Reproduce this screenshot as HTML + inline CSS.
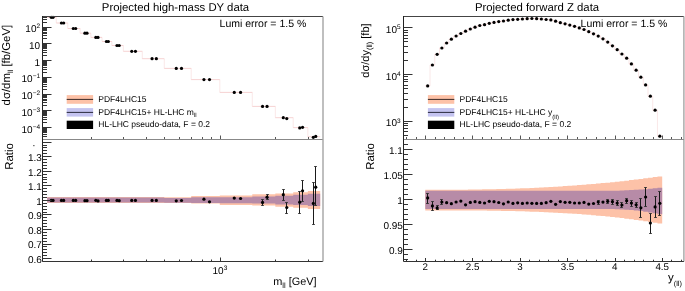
<!DOCTYPE html>
<html><head><meta charset="utf-8"><style>
html,body{margin:0;padding:0;background:#fff;}
svg{display:block;will-change:transform;}
</style></head><body>
<svg width="685" height="291" viewBox="0 0 685 291" font-family='"Liberation Sans", sans-serif' text-rendering="geometricPrecision">
<rect x="0.00" y="0.00" width="685.00" height="291.00" fill="#fff" />
<path d="M47.19,197.00 L56.32,197.00 L56.32,197.00 L67.79,197.00 L67.79,197.00 L80.14,197.00 L80.14,197.00 L90.84,197.00 L90.84,197.00 L102.04,197.00 L102.04,197.00 L111.86,197.00 L111.86,197.00 L123.33,197.00 L123.33,197.00 L142.27,197.00 L142.27,197.00 L164.26,197.00 L164.26,197.20 L191.22,197.20 L191.22,196.00 L219.80,196.00 L219.80,195.60 L252.29,195.60 L252.29,194.35 L275.34,194.35 L275.34,193.40 L293.22,193.40 L293.22,192.20 L307.83,192.20 L307.83,191.00 L320.18,191.00 L320.18,208.90 L307.83,208.90 L307.83,207.70 L293.22,207.70 L293.22,206.80 L275.34,206.80 L275.34,205.50 L252.29,205.50 L252.29,204.90 L219.80,204.90 L219.80,203.50 L191.22,203.50 L191.22,203.10 L164.26,203.10 L164.26,202.90 L142.27,202.90 L142.27,202.90 L123.33,202.90 L123.33,202.90 L111.86,202.90 L111.86,202.90 L102.04,202.90 L102.04,202.90 L90.84,202.90 L90.84,202.90 L80.14,202.90 L80.14,202.90 L67.79,202.90 L67.79,202.90 L56.32,202.90 L56.32,202.90 L47.19,202.90 Z" fill="#fdc2a8"/>
<path d="M47.19,197.50 L56.32,197.50 L56.32,197.50 L67.79,197.50 L67.79,197.50 L80.14,197.50 L80.14,197.50 L90.84,197.50 L90.84,197.50 L102.04,197.50 L102.04,197.50 L111.86,197.50 L111.86,197.50 L123.33,197.50 L123.33,197.50 L142.27,197.50 L142.27,197.50 L164.26,197.50 L164.26,197.90 L191.22,197.90 L191.22,197.30 L219.80,197.30 L219.80,197.20 L252.29,197.20 L252.29,196.50 L275.34,196.50 L275.34,195.80 L293.22,195.80 L293.22,194.80 L307.83,194.80 L307.83,193.80 L320.18,193.80 L320.18,206.10 L307.83,206.10 L307.83,205.10 L293.22,205.10 L293.22,204.60 L275.34,204.60 L275.34,203.40 L252.29,203.40 L252.29,203.30 L219.80,203.30 L219.80,202.90 L191.22,202.90 L191.22,202.70 L164.26,202.70 L164.26,202.50 L142.27,202.50 L142.27,202.50 L123.33,202.50 L123.33,202.50 L111.86,202.50 L111.86,202.50 L102.04,202.50 L102.04,202.50 L90.84,202.50 L90.84,202.50 L80.14,202.50 L80.14,202.50 L67.79,202.50 L67.79,202.50 L56.32,202.50 L56.32,202.50 L47.19,202.50 Z" fill="#b78ba7"/>
<circle cx="51.26" cy="200.40" r="1.6" fill="#000"/>
<circle cx="53.04" cy="200.40" r="1.6" fill="#000"/>
<circle cx="61.43" cy="200.40" r="1.6" fill="#000"/>
<circle cx="63.66" cy="200.40" r="1.6" fill="#000"/>
<circle cx="73.29" cy="200.40" r="1.6" fill="#000"/>
<circle cx="75.69" cy="200.40" r="1.6" fill="#000"/>
<circle cx="84.90" cy="200.70" r="1.6" fill="#000"/>
<circle cx="86.99" cy="200.70" r="1.6" fill="#000"/>
<circle cx="95.82" cy="200.30" r="1.6" fill="#000"/>
<circle cx="98.01" cy="200.90" r="1.6" fill="#000"/>
<circle cx="106.41" cy="200.40" r="1.6" fill="#000"/>
<circle cx="108.33" cy="200.40" r="1.6" fill="#000"/>
<circle cx="116.97" cy="200.40" r="1.6" fill="#000"/>
<circle cx="119.20" cy="200.70" r="1.6" fill="#000"/>
<circle cx="131.76" cy="200.40" r="1.6" fill="#000"/>
<circle cx="135.45" cy="200.40" r="1.6" fill="#000"/>
<circle cx="152.06" cy="200.40" r="1.6" fill="#000"/>
<circle cx="156.34" cy="200.40" r="1.6" fill="#000"/>
<circle cx="176.26" cy="200.80" r="1.6" fill="#000"/>
<circle cx="181.51" cy="200.50" r="1.6" fill="#000"/>
<circle cx="203.94" cy="199.20" r="1.6" fill="#000"/>
<circle cx="209.51" cy="201.80" r="1.6" fill="#000"/>
<circle cx="234.26" cy="198.10" r="1.6" fill="#000"/>
<circle cx="240.59" cy="198.50" r="1.6" fill="#000"/>
<line x1="262.50" y1="199.50" x2="262.50" y2="205.50" stroke="#1a1a1a" stroke-width="1" />
<line x1="261.20" y1="199.50" x2="263.80" y2="199.50" stroke="#333" stroke-width="1" />
<line x1="261.20" y1="205.50" x2="263.80" y2="205.50" stroke="#333" stroke-width="1" />
<line x1="267.50" y1="194.50" x2="267.50" y2="199.50" stroke="#1a1a1a" stroke-width="1" />
<line x1="266.20" y1="194.50" x2="268.80" y2="194.50" stroke="#333" stroke-width="1" />
<line x1="266.20" y1="199.50" x2="268.80" y2="199.50" stroke="#333" stroke-width="1" />
<circle cx="262.55" cy="202.40" r="1.6" fill="#000"/>
<circle cx="267.04" cy="197.20" r="1.6" fill="#000"/>
<line x1="283.50" y1="189.50" x2="283.50" y2="200.50" stroke="#1a1a1a" stroke-width="1" />
<line x1="282.20" y1="189.50" x2="284.80" y2="189.50" stroke="#333" stroke-width="1" />
<line x1="282.20" y1="200.50" x2="284.80" y2="200.50" stroke="#333" stroke-width="1" />
<line x1="286.50" y1="202.50" x2="286.50" y2="213.50" stroke="#1a1a1a" stroke-width="1" />
<line x1="285.20" y1="202.50" x2="287.80" y2="202.50" stroke="#333" stroke-width="1" />
<line x1="285.20" y1="213.50" x2="287.80" y2="213.50" stroke="#333" stroke-width="1" />
<circle cx="283.30" cy="194.70" r="1.6" fill="#000"/>
<circle cx="286.78" cy="207.50" r="1.6" fill="#000"/>
<line x1="299.50" y1="191.50" x2="299.50" y2="213.50" stroke="#1a1a1a" stroke-width="1" />
<line x1="298.20" y1="191.50" x2="300.80" y2="191.50" stroke="#333" stroke-width="1" />
<line x1="298.20" y1="213.50" x2="300.80" y2="213.50" stroke="#333" stroke-width="1" />
<line x1="302.50" y1="180.50" x2="302.50" y2="201.50" stroke="#1a1a1a" stroke-width="1" />
<line x1="301.20" y1="180.50" x2="303.80" y2="180.50" stroke="#333" stroke-width="1" />
<line x1="301.20" y1="201.50" x2="303.80" y2="201.50" stroke="#333" stroke-width="1" />
<circle cx="299.72" cy="202.20" r="1.6" fill="#000"/>
<circle cx="302.57" cy="190.80" r="1.6" fill="#000"/>
<line x1="313.50" y1="182.50" x2="313.50" y2="224.50" stroke="#1a1a1a" stroke-width="1" />
<line x1="312.20" y1="182.50" x2="314.80" y2="182.50" stroke="#333" stroke-width="1" />
<line x1="312.20" y1="224.50" x2="314.80" y2="224.50" stroke="#333" stroke-width="1" />
<line x1="315.50" y1="166.50" x2="315.50" y2="205.50" stroke="#1a1a1a" stroke-width="1" />
<line x1="314.20" y1="166.50" x2="316.80" y2="166.50" stroke="#333" stroke-width="1" />
<line x1="314.20" y1="205.50" x2="316.80" y2="205.50" stroke="#333" stroke-width="1" />
<circle cx="313.33" cy="203.40" r="1.6" fill="#000"/>
<circle cx="315.73" cy="187.20" r="1.6" fill="#000"/>
<rect x="0.00" y="0.00" width="335.00" height="144.60" fill="#fff" />
<path d="M56.32,17.50 L56.32,23.00 M67.79,23.00 L67.79,28.50 M80.14,28.50 L80.14,33.20 M90.84,33.20 L90.84,37.40 M102.04,37.40 L102.04,41.50 M111.86,41.50 L111.86,45.50 M123.33,45.50 L123.33,51.30 M142.27,51.30 L142.27,58.70 M164.26,58.70 L164.26,68.40 M191.22,68.40 L191.22,79.60 M219.80,79.60 L219.80,92.40 M252.29,92.40 L252.29,106.40 M275.34,106.40 L275.34,117.70 M293.22,117.70 L293.22,127.60 M307.83,127.60 L307.83,136.70 " fill="none" stroke="#f9e2e2" stroke-width="0.8"/>
<path d="M47.19,17.50 L56.32,17.50 M56.32,23.00 L67.79,23.00 M67.79,28.50 L80.14,28.50 M80.14,33.20 L90.84,33.20 M90.84,37.40 L102.04,37.40 M102.04,41.50 L111.86,41.50 M111.86,45.50 L123.33,45.50 M123.33,51.30 L142.27,51.30 M142.27,58.70 L164.26,58.70 M164.26,68.40 L191.22,68.40 M191.22,79.60 L219.80,79.60 M219.80,92.40 L252.29,92.40 M252.29,106.40 L275.34,106.40 M275.34,117.70 L293.22,117.70 M293.22,127.60 L307.83,127.60 M307.83,136.70 L320.18,136.70 " fill="none" stroke="#f4c6c6" stroke-width="0.8"/>
<circle cx="51.26" cy="17.30" r="1.6" fill="#000"/>
<circle cx="53.04" cy="17.30" r="1.6" fill="#000"/>
<circle cx="61.43" cy="23.00" r="1.6" fill="#000"/>
<circle cx="63.66" cy="23.00" r="1.6" fill="#000"/>
<circle cx="73.29" cy="28.50" r="1.6" fill="#000"/>
<circle cx="75.69" cy="28.50" r="1.6" fill="#000"/>
<circle cx="84.90" cy="33.20" r="1.6" fill="#000"/>
<circle cx="86.99" cy="33.20" r="1.6" fill="#000"/>
<circle cx="95.82" cy="37.40" r="1.6" fill="#000"/>
<circle cx="98.01" cy="37.40" r="1.6" fill="#000"/>
<circle cx="106.41" cy="41.50" r="1.6" fill="#000"/>
<circle cx="108.33" cy="41.50" r="1.6" fill="#000"/>
<circle cx="116.97" cy="45.50" r="1.6" fill="#000"/>
<circle cx="119.20" cy="45.50" r="1.6" fill="#000"/>
<circle cx="131.76" cy="51.30" r="1.6" fill="#000"/>
<circle cx="135.45" cy="51.30" r="1.6" fill="#000"/>
<circle cx="152.06" cy="58.70" r="1.6" fill="#000"/>
<circle cx="156.34" cy="58.70" r="1.6" fill="#000"/>
<circle cx="176.26" cy="68.40" r="1.6" fill="#000"/>
<circle cx="181.51" cy="68.40" r="1.6" fill="#000"/>
<circle cx="203.94" cy="79.60" r="1.6" fill="#000"/>
<circle cx="209.51" cy="79.60" r="1.6" fill="#000"/>
<circle cx="234.26" cy="92.40" r="1.6" fill="#000"/>
<circle cx="240.59" cy="92.40" r="1.6" fill="#000"/>
<circle cx="262.55" cy="106.40" r="1.6" fill="#000"/>
<circle cx="267.04" cy="106.40" r="1.6" fill="#000"/>
<circle cx="283.30" cy="117.70" r="1.6" fill="#000"/>
<circle cx="286.78" cy="118.60" r="1.6" fill="#000"/>
<circle cx="299.72" cy="127.90" r="1.6" fill="#000"/>
<circle cx="302.57" cy="127.30" r="1.6" fill="#000"/>
<circle cx="313.33" cy="137.30" r="1.6" fill="#000"/>
<circle cx="315.73" cy="136.40" r="1.6" fill="#000"/>
<line x1="42.50" y1="16.50" x2="323.00" y2="16.50" stroke="#444" stroke-width="1" />
<line x1="323.00" y1="16.50" x2="323.00" y2="139.00" stroke="#a4a4a4" stroke-width="1.4" />
<line x1="42.50" y1="139.45" x2="323.00" y2="139.45" stroke="#888" stroke-width="1.1" />
<line x1="42.50" y1="16.00" x2="42.50" y2="139.00" stroke="#222" stroke-width="1" />
<line x1="42.50" y1="136.50" x2="47.00" y2="136.50" stroke="#333" stroke-width="1" />
<line x1="42.50" y1="134.50" x2="47.00" y2="134.50" stroke="#333" stroke-width="1" />
<line x1="42.50" y1="132.50" x2="47.00" y2="132.50" stroke="#333" stroke-width="1" />
<line x1="42.50" y1="131.50" x2="47.00" y2="131.50" stroke="#333" stroke-width="1" />
<line x1="42.50" y1="130.50" x2="47.00" y2="130.50" stroke="#333" stroke-width="1" />
<line x1="42.50" y1="129.50" x2="47.00" y2="129.50" stroke="#333" stroke-width="1" />
<line x1="42.50" y1="128.50" x2="47.00" y2="128.50" stroke="#333" stroke-width="1" />
<line x1="42.50" y1="127.50" x2="51.50" y2="127.50" stroke="#333" stroke-width="1" />
<line x1="42.50" y1="122.50" x2="47.00" y2="122.50" stroke="#333" stroke-width="1" />
<line x1="42.50" y1="119.50" x2="47.00" y2="119.50" stroke="#333" stroke-width="1" />
<line x1="42.50" y1="117.50" x2="47.00" y2="117.50" stroke="#333" stroke-width="1" />
<line x1="42.50" y1="115.50" x2="47.00" y2="115.50" stroke="#333" stroke-width="1" />
<line x1="42.50" y1="114.50" x2="47.00" y2="114.50" stroke="#333" stroke-width="1" />
<line x1="42.50" y1="113.50" x2="47.00" y2="113.50" stroke="#333" stroke-width="1" />
<line x1="42.50" y1="112.50" x2="47.00" y2="112.50" stroke="#333" stroke-width="1" />
<line x1="42.50" y1="111.50" x2="47.00" y2="111.50" stroke="#333" stroke-width="1" />
<line x1="42.50" y1="110.50" x2="51.50" y2="110.50" stroke="#333" stroke-width="1" />
<line x1="42.50" y1="105.50" x2="47.00" y2="105.50" stroke="#333" stroke-width="1" />
<line x1="42.50" y1="102.50" x2="47.00" y2="102.50" stroke="#333" stroke-width="1" />
<line x1="42.50" y1="100.50" x2="47.00" y2="100.50" stroke="#333" stroke-width="1" />
<line x1="42.50" y1="99.50" x2="47.00" y2="99.50" stroke="#333" stroke-width="1" />
<line x1="42.50" y1="97.50" x2="47.00" y2="97.50" stroke="#333" stroke-width="1" />
<line x1="42.50" y1="96.50" x2="47.00" y2="96.50" stroke="#333" stroke-width="1" />
<line x1="42.50" y1="95.50" x2="47.00" y2="95.50" stroke="#333" stroke-width="1" />
<line x1="42.50" y1="94.50" x2="47.00" y2="94.50" stroke="#333" stroke-width="1" />
<line x1="42.50" y1="94.50" x2="51.50" y2="94.50" stroke="#333" stroke-width="1" />
<line x1="42.50" y1="89.50" x2="47.00" y2="89.50" stroke="#333" stroke-width="1" />
<line x1="42.50" y1="86.50" x2="47.00" y2="86.50" stroke="#333" stroke-width="1" />
<line x1="42.50" y1="84.50" x2="47.00" y2="84.50" stroke="#333" stroke-width="1" />
<line x1="42.50" y1="82.50" x2="47.00" y2="82.50" stroke="#333" stroke-width="1" />
<line x1="42.50" y1="81.50" x2="47.00" y2="81.50" stroke="#333" stroke-width="1" />
<line x1="42.50" y1="80.50" x2="47.00" y2="80.50" stroke="#333" stroke-width="1" />
<line x1="42.50" y1="79.50" x2="47.00" y2="79.50" stroke="#333" stroke-width="1" />
<line x1="42.50" y1="78.50" x2="47.00" y2="78.50" stroke="#333" stroke-width="1" />
<line x1="42.50" y1="77.50" x2="51.50" y2="77.50" stroke="#333" stroke-width="1" />
<line x1="42.50" y1="72.50" x2="47.00" y2="72.50" stroke="#333" stroke-width="1" />
<line x1="42.50" y1="69.50" x2="47.00" y2="69.50" stroke="#333" stroke-width="1" />
<line x1="42.50" y1="67.50" x2="47.00" y2="67.50" stroke="#333" stroke-width="1" />
<line x1="42.50" y1="65.50" x2="47.00" y2="65.50" stroke="#333" stroke-width="1" />
<line x1="42.50" y1="64.50" x2="47.00" y2="64.50" stroke="#333" stroke-width="1" />
<line x1="42.50" y1="63.50" x2="47.00" y2="63.50" stroke="#333" stroke-width="1" />
<line x1="42.50" y1="62.50" x2="47.00" y2="62.50" stroke="#333" stroke-width="1" />
<line x1="42.50" y1="61.50" x2="47.00" y2="61.50" stroke="#333" stroke-width="1" />
<line x1="42.50" y1="60.50" x2="51.50" y2="60.50" stroke="#333" stroke-width="1" />
<line x1="42.50" y1="55.50" x2="47.00" y2="55.50" stroke="#333" stroke-width="1" />
<line x1="42.50" y1="52.50" x2="47.00" y2="52.50" stroke="#333" stroke-width="1" />
<line x1="42.50" y1="50.50" x2="47.00" y2="50.50" stroke="#333" stroke-width="1" />
<line x1="42.50" y1="48.50" x2="47.00" y2="48.50" stroke="#333" stroke-width="1" />
<line x1="42.50" y1="47.50" x2="47.00" y2="47.50" stroke="#333" stroke-width="1" />
<line x1="42.50" y1="46.50" x2="47.00" y2="46.50" stroke="#333" stroke-width="1" />
<line x1="42.50" y1="45.50" x2="47.00" y2="45.50" stroke="#333" stroke-width="1" />
<line x1="42.50" y1="44.50" x2="47.00" y2="44.50" stroke="#333" stroke-width="1" />
<line x1="42.50" y1="43.50" x2="51.50" y2="43.50" stroke="#333" stroke-width="1" />
<line x1="42.50" y1="38.50" x2="47.00" y2="38.50" stroke="#333" stroke-width="1" />
<line x1="42.50" y1="35.50" x2="47.00" y2="35.50" stroke="#333" stroke-width="1" />
<line x1="42.50" y1="33.50" x2="47.00" y2="33.50" stroke="#333" stroke-width="1" />
<line x1="42.50" y1="32.50" x2="47.00" y2="32.50" stroke="#333" stroke-width="1" />
<line x1="42.50" y1="30.50" x2="47.00" y2="30.50" stroke="#333" stroke-width="1" />
<line x1="42.50" y1="29.50" x2="47.00" y2="29.50" stroke="#333" stroke-width="1" />
<line x1="42.50" y1="28.50" x2="47.00" y2="28.50" stroke="#333" stroke-width="1" />
<line x1="42.50" y1="27.50" x2="47.00" y2="27.50" stroke="#333" stroke-width="1" />
<line x1="42.50" y1="27.50" x2="51.50" y2="27.50" stroke="#333" stroke-width="1" />
<line x1="42.50" y1="22.50" x2="47.00" y2="22.50" stroke="#333" stroke-width="1" />
<line x1="42.50" y1="19.50" x2="47.00" y2="19.50" stroke="#333" stroke-width="1" />
<line x1="42.50" y1="17.50" x2="47.00" y2="17.50" stroke="#333" stroke-width="1" />
<text x="40.10" y="32.00" font-size="10" text-anchor="end" >10<tspan dy="-3.8" font-size="6.5">2</tspan></text>
<text x="40.10" y="48.75" font-size="10" text-anchor="end" >10</text>
<text x="40.10" y="65.50" font-size="10" text-anchor="end" >1</text>
<text x="40.10" y="82.25" font-size="10" text-anchor="end" >10<tspan dy="-3.8" font-size="6.5">−1</tspan></text>
<text x="40.10" y="99.00" font-size="10" text-anchor="end" >10<tspan dy="-3.8" font-size="6.5">−2</tspan></text>
<text x="40.10" y="115.75" font-size="10" text-anchor="end" >10<tspan dy="-3.8" font-size="6.5">−3</tspan></text>
<text x="40.10" y="132.50" font-size="10" text-anchor="end" >10<tspan dy="-3.8" font-size="6.5">−4</tspan></text>
<line x1="91.50" y1="139.00" x2="91.50" y2="137.00" stroke="#555" stroke-width="1" />
<line x1="123.50" y1="139.00" x2="123.50" y2="137.00" stroke="#555" stroke-width="1" />
<line x1="146.50" y1="139.00" x2="146.50" y2="137.00" stroke="#555" stroke-width="1" />
<line x1="164.50" y1="139.00" x2="164.50" y2="137.00" stroke="#555" stroke-width="1" />
<line x1="179.50" y1="139.00" x2="179.50" y2="137.00" stroke="#555" stroke-width="1" />
<line x1="191.50" y1="139.00" x2="191.50" y2="137.00" stroke="#555" stroke-width="1" />
<line x1="202.50" y1="139.00" x2="202.50" y2="137.00" stroke="#555" stroke-width="1" />
<line x1="211.50" y1="139.00" x2="211.50" y2="137.00" stroke="#555" stroke-width="1" />
<line x1="220.50" y1="139.00" x2="220.50" y2="135.50" stroke="#555" stroke-width="1" />
<line x1="275.50" y1="139.00" x2="275.50" y2="137.00" stroke="#555" stroke-width="1" />
<line x1="308.50" y1="139.00" x2="308.50" y2="137.00" stroke="#555" stroke-width="1" />
<line x1="42.50" y1="139.00" x2="42.50" y2="261.50" stroke="#222" stroke-width="1" />
<line x1="42.50" y1="261.50" x2="323.00" y2="261.50" stroke="#333" stroke-width="1" />
<line x1="323.00" y1="139.00" x2="323.00" y2="261.50" stroke="#a4a4a4" stroke-width="1.4" />
<line x1="42.50" y1="261.50" x2="47.00" y2="261.50" stroke="#333" stroke-width="1" />
<line x1="42.50" y1="258.50" x2="51.50" y2="258.50" stroke="#333" stroke-width="1" />
<line x1="42.50" y1="255.50" x2="47.00" y2="255.50" stroke="#333" stroke-width="1" />
<line x1="42.50" y1="252.50" x2="47.00" y2="252.50" stroke="#333" stroke-width="1" />
<line x1="42.50" y1="249.50" x2="47.00" y2="249.50" stroke="#333" stroke-width="1" />
<line x1="42.50" y1="246.50" x2="47.00" y2="246.50" stroke="#333" stroke-width="1" />
<line x1="42.50" y1="244.50" x2="51.50" y2="244.50" stroke="#333" stroke-width="1" />
<line x1="42.50" y1="241.50" x2="47.00" y2="241.50" stroke="#333" stroke-width="1" />
<line x1="42.50" y1="238.50" x2="47.00" y2="238.50" stroke="#333" stroke-width="1" />
<line x1="42.50" y1="235.50" x2="47.00" y2="235.50" stroke="#333" stroke-width="1" />
<line x1="42.50" y1="232.50" x2="47.00" y2="232.50" stroke="#333" stroke-width="1" />
<line x1="42.50" y1="229.50" x2="51.50" y2="229.50" stroke="#333" stroke-width="1" />
<line x1="42.50" y1="226.50" x2="47.00" y2="226.50" stroke="#333" stroke-width="1" />
<line x1="42.50" y1="223.50" x2="47.00" y2="223.50" stroke="#333" stroke-width="1" />
<line x1="42.50" y1="220.50" x2="47.00" y2="220.50" stroke="#333" stroke-width="1" />
<line x1="42.50" y1="217.50" x2="47.00" y2="217.50" stroke="#333" stroke-width="1" />
<line x1="42.50" y1="214.50" x2="51.50" y2="214.50" stroke="#333" stroke-width="1" />
<line x1="42.50" y1="212.50" x2="47.00" y2="212.50" stroke="#333" stroke-width="1" />
<line x1="42.50" y1="209.50" x2="47.00" y2="209.50" stroke="#333" stroke-width="1" />
<line x1="42.50" y1="206.50" x2="47.00" y2="206.50" stroke="#333" stroke-width="1" />
<line x1="42.50" y1="203.50" x2="47.00" y2="203.50" stroke="#333" stroke-width="1" />
<line x1="42.50" y1="200.50" x2="51.50" y2="200.50" stroke="#333" stroke-width="1" />
<line x1="42.50" y1="197.50" x2="47.00" y2="197.50" stroke="#333" stroke-width="1" />
<line x1="42.50" y1="194.50" x2="47.00" y2="194.50" stroke="#333" stroke-width="1" />
<line x1="42.50" y1="191.50" x2="47.00" y2="191.50" stroke="#333" stroke-width="1" />
<line x1="42.50" y1="188.50" x2="47.00" y2="188.50" stroke="#333" stroke-width="1" />
<line x1="42.50" y1="185.50" x2="51.50" y2="185.50" stroke="#333" stroke-width="1" />
<line x1="42.50" y1="182.50" x2="47.00" y2="182.50" stroke="#333" stroke-width="1" />
<line x1="42.50" y1="179.50" x2="47.00" y2="179.50" stroke="#333" stroke-width="1" />
<line x1="42.50" y1="177.50" x2="47.00" y2="177.50" stroke="#333" stroke-width="1" />
<line x1="42.50" y1="174.50" x2="47.00" y2="174.50" stroke="#333" stroke-width="1" />
<line x1="42.50" y1="171.50" x2="51.50" y2="171.50" stroke="#333" stroke-width="1" />
<line x1="42.50" y1="168.50" x2="47.00" y2="168.50" stroke="#333" stroke-width="1" />
<line x1="42.50" y1="165.50" x2="47.00" y2="165.50" stroke="#333" stroke-width="1" />
<line x1="42.50" y1="162.50" x2="47.00" y2="162.50" stroke="#333" stroke-width="1" />
<line x1="42.50" y1="159.50" x2="47.00" y2="159.50" stroke="#333" stroke-width="1" />
<line x1="42.50" y1="156.50" x2="51.50" y2="156.50" stroke="#333" stroke-width="1" />
<line x1="42.50" y1="153.50" x2="47.00" y2="153.50" stroke="#333" stroke-width="1" />
<line x1="42.50" y1="150.50" x2="47.00" y2="150.50" stroke="#333" stroke-width="1" />
<line x1="42.50" y1="147.50" x2="47.00" y2="147.50" stroke="#333" stroke-width="1" />
<line x1="42.50" y1="145.50" x2="47.00" y2="145.50" stroke="#333" stroke-width="1" />
<line x1="42.50" y1="142.50" x2="51.50" y2="142.50" stroke="#333" stroke-width="1" />
<text x="41.80" y="160.99" font-size="10" text-anchor="end" >1.3</text>
<text x="41.80" y="175.55" font-size="10" text-anchor="end" >1.2</text>
<text x="41.80" y="190.11" font-size="10" text-anchor="end" >1.1</text>
<text x="41.80" y="204.67" font-size="10" text-anchor="end" >1</text>
<text x="41.80" y="219.23" font-size="10" text-anchor="end" >0.9</text>
<text x="41.80" y="233.79" font-size="10" text-anchor="end" >0.8</text>
<text x="41.80" y="248.35" font-size="10" text-anchor="end" >0.7</text>
<text x="41.80" y="262.91" font-size="10" text-anchor="end" >0.6</text>
<rect x="33.20" y="145.00" width="1.30" height="1.20" fill="#555" />
<line x1="91.50" y1="261.50" x2="91.50" y2="259.50" stroke="#333" stroke-width="1" />
<line x1="123.50" y1="261.50" x2="123.50" y2="259.50" stroke="#333" stroke-width="1" />
<line x1="146.50" y1="261.50" x2="146.50" y2="259.50" stroke="#333" stroke-width="1" />
<line x1="164.50" y1="261.50" x2="164.50" y2="259.50" stroke="#333" stroke-width="1" />
<line x1="179.50" y1="261.50" x2="179.50" y2="259.50" stroke="#333" stroke-width="1" />
<line x1="191.50" y1="261.50" x2="191.50" y2="259.50" stroke="#333" stroke-width="1" />
<line x1="202.50" y1="261.50" x2="202.50" y2="259.50" stroke="#333" stroke-width="1" />
<line x1="211.50" y1="261.50" x2="211.50" y2="259.50" stroke="#333" stroke-width="1" />
<line x1="220.50" y1="261.50" x2="220.50" y2="257.50" stroke="#333" stroke-width="1" />
<line x1="275.50" y1="261.50" x2="275.50" y2="259.50" stroke="#333" stroke-width="1" />
<line x1="308.50" y1="261.50" x2="308.50" y2="259.50" stroke="#333" stroke-width="1" />
<text x="212.50" y="274.20" font-size="10" text-anchor="start" >10<tspan dy="-4.2" font-size="6.5">3</tspan></text>
<text x="316.60" y="285.00" font-size="10.9" text-anchor="end" >m<tspan dy="3" font-size="7.6">ll</tspan><tspan dy="-3"> [GeV]</tspan></text>
<text x="175.50" y="11.30" font-size="11.35" text-anchor="middle" >Projected high-mass DY data</text>
<text x="10.50" y="24.80" font-size="11.4" text-anchor="end" transform="rotate(-90 10.5 24.8)">dσ/dm<tspan dy="2.5" font-size="7.5">ll</tspan><tspan dy="-2.5"> [fb/GeV]</tspan></text>
<text x="12.60" y="143.20" font-size="11.4" text-anchor="end" transform="rotate(-90 12.6 143.2)">Ratio</text>
<text x="219.60" y="27.30" font-size="10.5" text-anchor="start" >Lumi error = 1.5 %</text>
<rect x="66.70" y="95.10" width="26.40" height="8.70" fill="#fdc2a8" />
<line x1="66.70" y1="99.40" x2="93.10" y2="99.40" stroke="#3a2824" stroke-width="1" />
<rect x="66.70" y="108.10" width="26.40" height="8.50" fill="#c4c3f0" />
<line x1="66.70" y1="112.40" x2="93.10" y2="112.40" stroke="#2a2a3c" stroke-width="1" />
<rect x="66.70" y="120.70" width="26.40" height="8.30" fill="#000" />
<text x="98.30" y="102.30" font-size="8.5" text-anchor="start" >PDF4LHC15</text>
<text x="98.30" y="114.80" font-size="8.5" text-anchor="start" >PDF4LHC15+ HL-LHC m<tspan dy="2.6" font-size="6">ll</tspan></text>
<text x="98.30" y="126.90" font-size="8.5" text-anchor="start" >HL-LHC pseudo-data, F = 0.2</text>
<path d="M425.30,189.80 L430.04,189.80 L430.04,189.80 L434.78,189.80 L434.78,189.79 L439.51,189.79 L439.51,189.78 L444.25,189.78 L444.25,189.77 L448.99,189.77 L448.99,189.74 L453.73,189.74 L453.73,189.72 L458.47,189.72 L458.47,189.68 L463.20,189.68 L463.20,189.64 L467.94,189.64 L467.94,189.58 L472.68,189.58 L472.68,189.52 L477.42,189.52 L477.42,189.45 L482.16,189.45 L482.16,189.37 L486.89,189.37 L486.89,189.28 L491.63,189.28 L491.63,189.18 L496.37,189.18 L496.37,189.06 L501.11,189.06 L501.11,188.94 L505.85,188.94 L505.85,188.80 L510.58,188.80 L510.58,188.65 L515.32,188.65 L515.32,188.49 L520.06,188.49 L520.06,188.32 L524.80,188.32 L524.80,188.13 L529.54,188.13 L529.54,187.93 L534.27,187.93 L534.27,187.72 L539.01,187.72 L539.01,187.49 L543.75,187.49 L543.75,187.25 L548.49,187.25 L548.49,186.99 L553.23,186.99 L553.23,186.72 L557.96,186.72 L557.96,186.43 L562.70,186.43 L562.70,186.12 L567.44,186.12 L567.44,185.80 L572.18,185.80 L572.18,185.47 L576.92,185.47 L576.92,185.12 L581.65,185.12 L581.65,184.75 L586.39,184.75 L586.39,184.36 L591.13,184.36 L591.13,183.96 L595.87,183.96 L595.87,183.54 L600.61,183.54 L600.61,183.10 L605.34,183.10 L605.34,182.65 L610.08,182.65 L610.08,182.17 L614.82,182.17 L614.82,181.68 L619.56,181.68 L619.56,181.17 L624.30,181.17 L624.30,180.64 L629.03,180.64 L629.03,180.09 L633.77,180.09 L633.77,179.53 L638.51,179.53 L638.51,178.94 L643.25,178.94 L643.25,178.33 L647.99,178.33 L647.99,177.70 L652.72,177.70 L652.72,177.06 L657.46,177.06 L657.46,176.39 L662.20,176.39 L662.20,223.50 L657.46,223.50 L657.46,222.72 L652.72,222.72 L652.72,221.97 L647.99,221.97 L647.99,221.26 L643.25,221.26 L643.25,220.57 L638.51,220.57 L638.51,219.92 L633.77,219.92 L633.77,219.29 L629.03,219.29 L629.03,218.69 L624.30,218.69 L624.30,218.12 L619.56,218.12 L619.56,217.57 L614.82,217.57 L614.82,217.06 L610.08,217.06 L610.08,216.56 L605.34,216.56 L605.34,216.10 L600.61,216.10 L600.61,215.65 L595.87,215.65 L595.87,215.23 L591.13,215.23 L591.13,214.83 L586.39,214.83 L586.39,214.46 L581.65,214.46 L581.65,214.11 L576.92,214.11 L576.92,213.78 L572.18,213.78 L572.18,213.46 L567.44,213.46 L567.44,213.17 L562.70,213.17 L562.70,212.90 L557.96,212.90 L557.96,212.65 L553.23,212.65 L553.23,212.41 L548.49,212.41 L548.49,212.19 L543.75,212.19 L543.75,211.99 L539.01,211.99 L539.01,211.80 L534.27,211.80 L534.27,211.63 L529.54,211.63 L529.54,211.47 L524.80,211.47 L524.80,211.33 L520.06,211.33 L520.06,211.20 L515.32,211.20 L515.32,211.08 L510.58,211.08 L510.58,210.98 L505.85,210.98 L505.85,210.89 L501.11,210.89 L501.11,210.80 L496.37,210.80 L496.37,210.73 L491.63,210.73 L491.63,210.67 L486.89,210.67 L486.89,210.61 L482.16,210.61 L482.16,210.56 L477.42,210.56 L477.42,210.53 L472.68,210.53 L472.68,210.49 L467.94,210.49 L467.94,210.47 L463.20,210.47 L463.20,210.45 L458.47,210.45 L458.47,210.43 L453.73,210.43 L453.73,210.42 L448.99,210.42 L448.99,210.41 L444.25,210.41 L444.25,210.40 L439.51,210.40 L439.51,210.40 L434.78,210.40 L434.78,210.40 L430.04,210.40 L430.04,210.40 L425.30,210.40 Z" fill="#fdc2a8"/>
<path d="M425.30,190.80 L430.04,190.80 L430.04,190.80 L434.78,190.80 L434.78,190.80 L439.51,190.80 L439.51,190.80 L444.25,190.80 L444.25,190.80 L448.99,190.80 L448.99,190.80 L453.73,190.80 L453.73,190.80 L458.47,190.80 L458.47,190.80 L463.20,190.80 L463.20,190.80 L467.94,190.80 L467.94,190.80 L472.68,190.80 L472.68,190.80 L477.42,190.80 L477.42,190.80 L482.16,190.80 L482.16,190.80 L486.89,190.80 L486.89,190.80 L491.63,190.80 L491.63,190.80 L496.37,190.80 L496.37,190.80 L501.11,190.80 L501.11,190.80 L505.85,190.80 L505.85,190.80 L510.58,190.80 L510.58,190.80 L515.32,190.80 L515.32,190.80 L520.06,190.80 L520.06,190.80 L524.80,190.80 L524.80,190.80 L529.54,190.80 L529.54,190.80 L534.27,190.80 L534.27,190.80 L539.01,190.80 L539.01,190.80 L543.75,190.80 L543.75,190.80 L548.49,190.80 L548.49,190.80 L553.23,190.80 L553.23,190.80 L557.96,190.80 L557.96,190.80 L562.70,190.80 L562.70,190.80 L567.44,190.80 L567.44,190.80 L572.18,190.80 L572.18,190.80 L576.92,190.80 L576.92,190.80 L581.65,190.80 L581.65,190.80 L586.39,190.80 L586.39,190.80 L591.13,190.80 L591.13,190.80 L595.87,190.80 L595.87,190.80 L600.61,190.80 L600.61,190.80 L605.34,190.80 L605.34,190.79 L610.08,190.79 L610.08,190.75 L614.82,190.75 L614.82,190.66 L619.56,190.66 L619.56,190.52 L624.30,190.52 L624.30,190.34 L629.03,190.34 L629.03,190.12 L633.77,190.12 L633.77,189.85 L638.51,189.85 L638.51,189.53 L643.25,189.53 L643.25,189.17 L647.99,189.17 L647.99,188.76 L652.72,188.76 L652.72,188.31 L657.46,188.31 L657.46,187.82 L662.20,187.82 L662.20,214.24 L657.46,214.24 L657.46,213.29 L652.72,213.29 L652.72,212.44 L647.99,212.44 L647.99,211.69 L643.25,211.69 L643.25,211.04 L638.51,211.04 L638.51,210.49 L633.77,210.49 L633.77,210.03 L629.03,210.03 L629.03,209.66 L624.30,209.66 L624.30,209.38 L619.56,209.38 L619.56,209.18 L614.82,209.18 L614.82,209.06 L610.08,209.06 L610.08,209.01 L605.34,209.01 L605.34,209.00 L600.61,209.00 L600.61,209.00 L595.87,209.00 L595.87,209.00 L591.13,209.00 L591.13,209.00 L586.39,209.00 L586.39,209.00 L581.65,209.00 L581.65,209.00 L576.92,209.00 L576.92,209.00 L572.18,209.00 L572.18,209.00 L567.44,209.00 L567.44,209.00 L562.70,209.00 L562.70,209.00 L557.96,209.00 L557.96,209.00 L553.23,209.00 L553.23,209.00 L548.49,209.00 L548.49,209.00 L543.75,209.00 L543.75,209.00 L539.01,209.00 L539.01,209.00 L534.27,209.00 L534.27,209.00 L529.54,209.00 L529.54,209.00 L524.80,209.00 L524.80,209.00 L520.06,209.00 L520.06,209.00 L515.32,209.00 L515.32,209.00 L510.58,209.00 L510.58,209.00 L505.85,209.00 L505.85,209.00 L501.11,209.00 L501.11,209.00 L496.37,209.00 L496.37,209.00 L491.63,209.00 L491.63,209.00 L486.89,209.00 L486.89,209.00 L482.16,209.00 L482.16,209.00 L477.42,209.00 L477.42,209.00 L472.68,209.00 L472.68,209.00 L467.94,209.00 L467.94,209.00 L463.20,209.00 L463.20,209.00 L458.47,209.00 L458.47,209.00 L453.73,209.00 L453.73,209.00 L448.99,209.00 L448.99,209.00 L444.25,209.00 L444.25,209.00 L439.51,209.00 L439.51,209.00 L434.78,209.00 L434.78,209.00 L430.04,209.00 L430.04,209.00 L425.30,209.00 Z" fill="#b78ba7"/>
<line x1="427.50" y1="193.50" x2="427.50" y2="203.50" stroke="#1a1a1a" stroke-width="1" />
<line x1="426.20" y1="193.50" x2="428.80" y2="193.50" stroke="#333" stroke-width="1" />
<line x1="426.20" y1="203.50" x2="428.80" y2="203.50" stroke="#333" stroke-width="1" />
<circle cx="427.67" cy="197.90" r="1.6" fill="#000"/>
<line x1="432.50" y1="201.50" x2="432.50" y2="210.50" stroke="#1a1a1a" stroke-width="1" />
<line x1="431.20" y1="201.50" x2="433.80" y2="201.50" stroke="#333" stroke-width="1" />
<line x1="431.20" y1="210.50" x2="433.80" y2="210.50" stroke="#333" stroke-width="1" />
<circle cx="432.41" cy="205.90" r="1.6" fill="#000"/>
<line x1="437.50" y1="205.50" x2="437.50" y2="209.50" stroke="#1a1a1a" stroke-width="1" />
<line x1="436.20" y1="205.50" x2="438.80" y2="205.50" stroke="#333" stroke-width="1" />
<line x1="436.20" y1="209.50" x2="438.80" y2="209.50" stroke="#333" stroke-width="1" />
<circle cx="437.15" cy="207.90" r="1.6" fill="#000"/>
<line x1="441.50" y1="199.50" x2="441.50" y2="204.50" stroke="#1a1a1a" stroke-width="1" />
<line x1="440.20" y1="199.50" x2="442.80" y2="199.50" stroke="#333" stroke-width="1" />
<line x1="440.20" y1="204.50" x2="442.80" y2="204.50" stroke="#333" stroke-width="1" />
<circle cx="441.88" cy="202.00" r="1.6" fill="#000"/>
<circle cx="446.62" cy="202.70" r="1.6" fill="#000"/>
<circle cx="451.36" cy="203.70" r="1.6" fill="#000"/>
<circle cx="456.10" cy="202.00" r="1.6" fill="#000"/>
<circle cx="460.84" cy="201.10" r="1.6" fill="#000"/>
<circle cx="465.57" cy="204.80" r="1.6" fill="#000"/>
<circle cx="470.31" cy="202.40" r="1.6" fill="#000"/>
<circle cx="475.05" cy="201.70" r="1.6" fill="#000"/>
<circle cx="479.79" cy="202.40" r="1.6" fill="#000"/>
<circle cx="484.53" cy="203.00" r="1.6" fill="#000"/>
<circle cx="489.26" cy="201.30" r="1.6" fill="#000"/>
<circle cx="494.00" cy="201.70" r="1.6" fill="#000"/>
<circle cx="498.74" cy="202.50" r="1.6" fill="#000"/>
<circle cx="503.48" cy="203.80" r="1.6" fill="#000"/>
<circle cx="508.22" cy="202.00" r="1.6" fill="#000"/>
<circle cx="512.95" cy="203.40" r="1.6" fill="#000"/>
<circle cx="517.69" cy="202.80" r="1.6" fill="#000"/>
<circle cx="522.43" cy="203.40" r="1.6" fill="#000"/>
<circle cx="527.17" cy="203.00" r="1.6" fill="#000"/>
<circle cx="531.91" cy="203.30" r="1.6" fill="#000"/>
<circle cx="536.64" cy="203.40" r="1.6" fill="#000"/>
<circle cx="541.38" cy="203.40" r="1.6" fill="#000"/>
<circle cx="546.12" cy="202.70" r="1.6" fill="#000"/>
<circle cx="550.86" cy="201.30" r="1.6" fill="#000"/>
<circle cx="555.60" cy="204.30" r="1.6" fill="#000"/>
<circle cx="560.33" cy="201.60" r="1.6" fill="#000"/>
<circle cx="565.07" cy="202.30" r="1.6" fill="#000"/>
<circle cx="569.81" cy="202.30" r="1.6" fill="#000"/>
<circle cx="574.55" cy="203.00" r="1.6" fill="#000"/>
<circle cx="579.29" cy="203.00" r="1.6" fill="#000"/>
<circle cx="584.02" cy="202.40" r="1.6" fill="#000"/>
<circle cx="588.76" cy="204.10" r="1.6" fill="#000"/>
<circle cx="593.50" cy="203.50" r="1.6" fill="#000"/>
<line x1="598.50" y1="200.50" x2="598.50" y2="204.50" stroke="#1a1a1a" stroke-width="1" />
<line x1="597.20" y1="200.50" x2="599.80" y2="200.50" stroke="#333" stroke-width="1" />
<line x1="597.20" y1="204.50" x2="599.80" y2="204.50" stroke="#333" stroke-width="1" />
<circle cx="598.24" cy="202.00" r="1.6" fill="#000"/>
<circle cx="602.98" cy="202.10" r="1.6" fill="#000"/>
<line x1="607.50" y1="199.50" x2="607.50" y2="203.50" stroke="#1a1a1a" stroke-width="1" />
<line x1="606.20" y1="199.50" x2="608.80" y2="199.50" stroke="#333" stroke-width="1" />
<line x1="606.20" y1="203.50" x2="608.80" y2="203.50" stroke="#333" stroke-width="1" />
<circle cx="607.71" cy="201.30" r="1.6" fill="#000"/>
<line x1="612.50" y1="199.50" x2="612.50" y2="204.50" stroke="#1a1a1a" stroke-width="1" />
<line x1="611.20" y1="199.50" x2="613.80" y2="199.50" stroke="#333" stroke-width="1" />
<line x1="611.20" y1="204.50" x2="613.80" y2="204.50" stroke="#333" stroke-width="1" />
<circle cx="612.45" cy="201.70" r="1.6" fill="#000"/>
<line x1="617.50" y1="200.50" x2="617.50" y2="205.50" stroke="#1a1a1a" stroke-width="1" />
<line x1="616.20" y1="200.50" x2="618.80" y2="200.50" stroke="#333" stroke-width="1" />
<line x1="616.20" y1="205.50" x2="618.80" y2="205.50" stroke="#333" stroke-width="1" />
<circle cx="617.19" cy="203.10" r="1.6" fill="#000"/>
<line x1="621.50" y1="202.50" x2="621.50" y2="207.50" stroke="#1a1a1a" stroke-width="1" />
<line x1="620.20" y1="202.50" x2="622.80" y2="202.50" stroke="#333" stroke-width="1" />
<line x1="620.20" y1="207.50" x2="622.80" y2="207.50" stroke="#333" stroke-width="1" />
<circle cx="621.93" cy="205.00" r="1.6" fill="#000"/>
<line x1="626.50" y1="198.50" x2="626.50" y2="203.50" stroke="#1a1a1a" stroke-width="1" />
<line x1="625.20" y1="198.50" x2="627.80" y2="198.50" stroke="#333" stroke-width="1" />
<line x1="625.20" y1="203.50" x2="627.80" y2="203.50" stroke="#333" stroke-width="1" />
<circle cx="626.67" cy="200.70" r="1.6" fill="#000"/>
<line x1="631.50" y1="200.50" x2="631.50" y2="206.50" stroke="#1a1a1a" stroke-width="1" />
<line x1="630.20" y1="200.50" x2="632.80" y2="200.50" stroke="#333" stroke-width="1" />
<line x1="630.20" y1="206.50" x2="632.80" y2="206.50" stroke="#333" stroke-width="1" />
<circle cx="631.40" cy="203.10" r="1.6" fill="#000"/>
<line x1="636.50" y1="202.50" x2="636.50" y2="207.50" stroke="#1a1a1a" stroke-width="1" />
<line x1="635.20" y1="202.50" x2="637.80" y2="202.50" stroke="#333" stroke-width="1" />
<line x1="635.20" y1="207.50" x2="637.80" y2="207.50" stroke="#333" stroke-width="1" />
<circle cx="636.14" cy="204.80" r="1.6" fill="#000"/>
<line x1="640.50" y1="198.50" x2="640.50" y2="217.50" stroke="#1a1a1a" stroke-width="1" />
<line x1="639.20" y1="198.50" x2="641.80" y2="198.50" stroke="#333" stroke-width="1" />
<line x1="639.20" y1="217.50" x2="641.80" y2="217.50" stroke="#333" stroke-width="1" />
<circle cx="640.88" cy="207.80" r="1.6" fill="#000"/>
<line x1="645.50" y1="187.50" x2="645.50" y2="206.50" stroke="#1a1a1a" stroke-width="1" />
<line x1="644.20" y1="187.50" x2="646.80" y2="187.50" stroke="#333" stroke-width="1" />
<line x1="644.20" y1="206.50" x2="646.80" y2="206.50" stroke="#333" stroke-width="1" />
<circle cx="645.62" cy="197.00" r="1.6" fill="#000"/>
<line x1="650.50" y1="213.50" x2="650.50" y2="233.50" stroke="#1a1a1a" stroke-width="1" />
<line x1="649.20" y1="213.50" x2="651.80" y2="213.50" stroke="#333" stroke-width="1" />
<line x1="649.20" y1="233.50" x2="651.80" y2="233.50" stroke="#333" stroke-width="1" />
<circle cx="650.36" cy="223.00" r="1.6" fill="#000"/>
<line x1="655.50" y1="196.50" x2="655.50" y2="217.50" stroke="#1a1a1a" stroke-width="1" />
<line x1="654.20" y1="196.50" x2="656.80" y2="196.50" stroke="#333" stroke-width="1" />
<line x1="654.20" y1="217.50" x2="656.80" y2="217.50" stroke="#333" stroke-width="1" />
<circle cx="655.09" cy="206.90" r="1.6" fill="#000"/>
<line x1="659.50" y1="191.50" x2="659.50" y2="215.50" stroke="#1a1a1a" stroke-width="1" />
<line x1="658.20" y1="191.50" x2="660.80" y2="191.50" stroke="#333" stroke-width="1" />
<line x1="658.20" y1="215.50" x2="660.80" y2="215.50" stroke="#333" stroke-width="1" />
<circle cx="659.83" cy="203.30" r="1.6" fill="#000"/>
<rect x="340.00" y="0.00" width="345.00" height="144.60" fill="#fff" />
<path d="M430.04,85.90 L430.04,65.00 M434.78,65.00 L434.78,54.30 M439.51,54.30 L439.51,48.00 M444.25,48.00 L444.25,43.00 M448.99,43.00 L448.99,39.20 M453.73,39.20 L453.73,36.00 M458.47,36.00 L458.47,33.50 M463.20,33.50 L463.20,31.20 M467.94,31.20 L467.94,29.00 M472.68,29.00 L472.68,27.20 M477.42,27.20 L477.42,25.50 M482.16,25.50 L482.16,24.70 M486.89,24.70 L486.89,23.30 M491.63,23.30 L491.63,22.40 M496.37,22.40 L496.37,21.60 M501.11,21.60 L501.11,21.00 M505.85,21.00 L505.85,20.20 M510.58,20.20 L510.58,19.60 M515.32,19.60 L515.32,19.30 M520.06,19.30 L520.06,19.00 M524.80,19.00 L524.80,18.70 M529.54,18.70 L529.54,18.50 M534.27,18.50 L534.27,18.70 M539.01,18.70 L539.01,19.00 M543.75,19.00 L543.75,19.50 M548.49,19.50 L548.49,19.90 M553.23,19.90 L553.23,21.20 M557.96,21.20 L557.96,22.70 M562.70,22.70 L562.70,23.80 M567.44,23.80 L567.44,25.10 M572.18,25.10 L572.18,26.30 M576.92,26.30 L576.92,27.90 M581.65,27.90 L581.65,29.50 M586.39,29.50 L586.39,31.70 M591.13,31.70 L591.13,33.80 M595.87,33.80 L595.87,36.10 M600.61,36.10 L600.61,38.80 M605.34,38.80 L605.34,42.10 M610.08,42.10 L610.08,45.80 M614.82,45.80 L614.82,49.70 M619.56,49.70 L619.56,54.00 M624.30,54.00 L624.30,58.20 M629.03,58.20 L629.03,63.90 M633.77,63.90 L633.77,70.20 M638.51,70.20 L638.51,77.20 M643.25,77.20 L643.25,84.90 M647.99,84.90 L647.99,96.20 M652.72,96.20 L652.72,110.20 M657.46,110.20 L657.46,136.20 " fill="none" stroke="#f9e2e2" stroke-width="0.8"/>
<path d="M425.30,85.90 L430.04,85.90 M430.04,65.00 L434.78,65.00 M434.78,54.30 L439.51,54.30 M439.51,48.00 L444.25,48.00 M444.25,43.00 L448.99,43.00 M448.99,39.20 L453.73,39.20 M453.73,36.00 L458.47,36.00 M458.47,33.50 L463.20,33.50 M463.20,31.20 L467.94,31.20 M467.94,29.00 L472.68,29.00 M472.68,27.20 L477.42,27.20 M477.42,25.50 L482.16,25.50 M482.16,24.70 L486.89,24.70 M486.89,23.30 L491.63,23.30 M491.63,22.40 L496.37,22.40 M496.37,21.60 L501.11,21.60 M501.11,21.00 L505.85,21.00 M505.85,20.20 L510.58,20.20 M510.58,19.60 L515.32,19.60 M515.32,19.30 L520.06,19.30 M520.06,19.00 L524.80,19.00 M524.80,18.70 L529.54,18.70 M529.54,18.50 L534.27,18.50 M534.27,18.70 L539.01,18.70 M539.01,19.00 L543.75,19.00 M543.75,19.50 L548.49,19.50 M548.49,19.90 L553.23,19.90 M553.23,21.20 L557.96,21.20 M557.96,22.70 L562.70,22.70 M562.70,23.80 L567.44,23.80 M567.44,25.10 L572.18,25.10 M572.18,26.30 L576.92,26.30 M576.92,27.90 L581.65,27.90 M581.65,29.50 L586.39,29.50 M586.39,31.70 L591.13,31.70 M591.13,33.80 L595.87,33.80 M595.87,36.10 L600.61,36.10 M600.61,38.80 L605.34,38.80 M605.34,42.10 L610.08,42.10 M610.08,45.80 L614.82,45.80 M614.82,49.70 L619.56,49.70 M619.56,54.00 L624.30,54.00 M624.30,58.20 L629.03,58.20 M629.03,63.90 L633.77,63.90 M633.77,70.20 L638.51,70.20 M638.51,77.20 L643.25,77.20 M643.25,84.90 L647.99,84.90 M647.99,96.20 L652.72,96.20 M652.72,110.20 L657.46,110.20 M657.46,136.20 L662.20,136.20 " fill="none" stroke="#f4c6c6" stroke-width="0.8"/>
<circle cx="427.67" cy="85.90" r="1.6" fill="#000"/>
<circle cx="432.41" cy="65.00" r="1.6" fill="#000"/>
<circle cx="437.15" cy="54.30" r="1.6" fill="#000"/>
<circle cx="441.88" cy="48.00" r="1.6" fill="#000"/>
<circle cx="446.62" cy="43.00" r="1.6" fill="#000"/>
<circle cx="451.36" cy="39.20" r="1.6" fill="#000"/>
<circle cx="456.10" cy="36.00" r="1.6" fill="#000"/>
<circle cx="460.84" cy="33.50" r="1.6" fill="#000"/>
<circle cx="465.57" cy="31.20" r="1.6" fill="#000"/>
<circle cx="470.31" cy="29.00" r="1.6" fill="#000"/>
<circle cx="475.05" cy="27.20" r="1.6" fill="#000"/>
<circle cx="479.79" cy="25.50" r="1.6" fill="#000"/>
<circle cx="484.53" cy="24.70" r="1.6" fill="#000"/>
<circle cx="489.26" cy="23.30" r="1.6" fill="#000"/>
<circle cx="494.00" cy="22.40" r="1.6" fill="#000"/>
<circle cx="498.74" cy="21.60" r="1.6" fill="#000"/>
<circle cx="503.48" cy="21.00" r="1.6" fill="#000"/>
<circle cx="508.22" cy="20.20" r="1.6" fill="#000"/>
<circle cx="512.95" cy="19.60" r="1.6" fill="#000"/>
<circle cx="517.69" cy="19.30" r="1.6" fill="#000"/>
<circle cx="522.43" cy="19.00" r="1.6" fill="#000"/>
<circle cx="527.17" cy="18.70" r="1.6" fill="#000"/>
<circle cx="531.90" cy="18.50" r="1.6" fill="#000"/>
<circle cx="536.64" cy="18.70" r="1.6" fill="#000"/>
<circle cx="541.38" cy="19.00" r="1.6" fill="#000"/>
<circle cx="546.12" cy="19.50" r="1.6" fill="#000"/>
<circle cx="550.86" cy="19.90" r="1.6" fill="#000"/>
<circle cx="555.60" cy="21.20" r="1.6" fill="#000"/>
<circle cx="560.33" cy="22.70" r="1.6" fill="#000"/>
<circle cx="565.07" cy="23.80" r="1.6" fill="#000"/>
<circle cx="569.81" cy="25.10" r="1.6" fill="#000"/>
<circle cx="574.55" cy="26.30" r="1.6" fill="#000"/>
<circle cx="579.29" cy="27.90" r="1.6" fill="#000"/>
<circle cx="584.02" cy="29.50" r="1.6" fill="#000"/>
<circle cx="588.76" cy="31.70" r="1.6" fill="#000"/>
<circle cx="593.50" cy="33.80" r="1.6" fill="#000"/>
<circle cx="598.24" cy="36.10" r="1.6" fill="#000"/>
<circle cx="602.98" cy="38.80" r="1.6" fill="#000"/>
<circle cx="607.71" cy="42.10" r="1.6" fill="#000"/>
<circle cx="612.45" cy="45.80" r="1.6" fill="#000"/>
<circle cx="617.19" cy="49.70" r="1.6" fill="#000"/>
<circle cx="621.93" cy="54.00" r="1.6" fill="#000"/>
<circle cx="626.66" cy="58.20" r="1.6" fill="#000"/>
<circle cx="631.40" cy="63.90" r="1.6" fill="#000"/>
<circle cx="636.14" cy="70.20" r="1.6" fill="#000"/>
<circle cx="640.88" cy="77.20" r="1.6" fill="#000"/>
<circle cx="645.62" cy="84.90" r="1.6" fill="#000"/>
<circle cx="650.36" cy="96.20" r="1.6" fill="#000"/>
<circle cx="655.09" cy="110.20" r="1.6" fill="#000"/>
<circle cx="659.83" cy="136.20" r="1.6" fill="#000"/>
<line x1="403.50" y1="16.50" x2="683.90" y2="16.50" stroke="#444" stroke-width="1" />
<line x1="683.90" y1="16.50" x2="683.90" y2="261.50" stroke="#a4a4a4" stroke-width="1.4" />
<line x1="403.50" y1="139.45" x2="683.90" y2="139.45" stroke="#888" stroke-width="1.1" />
<line x1="403.50" y1="16.00" x2="403.50" y2="139.00" stroke="#222" stroke-width="1" />
<line x1="403.50" y1="135.50" x2="408.00" y2="135.50" stroke="#333" stroke-width="1" />
<line x1="403.50" y1="131.50" x2="408.00" y2="131.50" stroke="#333" stroke-width="1" />
<line x1="403.50" y1="128.50" x2="408.00" y2="128.50" stroke="#333" stroke-width="1" />
<line x1="403.50" y1="125.50" x2="408.00" y2="125.50" stroke="#333" stroke-width="1" />
<line x1="403.50" y1="123.50" x2="408.00" y2="123.50" stroke="#333" stroke-width="1" />
<line x1="403.50" y1="121.50" x2="412.50" y2="121.50" stroke="#333" stroke-width="1" />
<line x1="403.50" y1="107.50" x2="408.00" y2="107.50" stroke="#333" stroke-width="1" />
<line x1="403.50" y1="99.50" x2="408.00" y2="99.50" stroke="#333" stroke-width="1" />
<line x1="403.50" y1="93.50" x2="408.00" y2="93.50" stroke="#333" stroke-width="1" />
<line x1="403.50" y1="88.50" x2="408.00" y2="88.50" stroke="#333" stroke-width="1" />
<line x1="403.50" y1="85.50" x2="408.00" y2="85.50" stroke="#333" stroke-width="1" />
<line x1="403.50" y1="81.50" x2="408.00" y2="81.50" stroke="#333" stroke-width="1" />
<line x1="403.50" y1="79.50" x2="408.00" y2="79.50" stroke="#333" stroke-width="1" />
<line x1="403.50" y1="76.50" x2="408.00" y2="76.50" stroke="#333" stroke-width="1" />
<line x1="403.50" y1="74.50" x2="412.50" y2="74.50" stroke="#333" stroke-width="1" />
<line x1="403.50" y1="60.50" x2="408.00" y2="60.50" stroke="#333" stroke-width="1" />
<line x1="403.50" y1="52.50" x2="408.00" y2="52.50" stroke="#333" stroke-width="1" />
<line x1="403.50" y1="46.50" x2="408.00" y2="46.50" stroke="#333" stroke-width="1" />
<line x1="403.50" y1="41.50" x2="408.00" y2="41.50" stroke="#333" stroke-width="1" />
<line x1="403.50" y1="38.50" x2="408.00" y2="38.50" stroke="#333" stroke-width="1" />
<line x1="403.50" y1="35.50" x2="408.00" y2="35.50" stroke="#333" stroke-width="1" />
<line x1="403.50" y1="32.50" x2="408.00" y2="32.50" stroke="#333" stroke-width="1" />
<line x1="403.50" y1="30.50" x2="408.00" y2="30.50" stroke="#333" stroke-width="1" />
<line x1="403.50" y1="27.50" x2="412.50" y2="27.50" stroke="#333" stroke-width="1" />
<text x="400.60" y="32.80" font-size="10" text-anchor="end" >10<tspan dy="-3.8" font-size="6.5">5</tspan></text>
<text x="400.60" y="79.55" font-size="10" text-anchor="end" >10<tspan dy="-3.8" font-size="6.5">4</tspan></text>
<text x="400.60" y="126.30" font-size="10" text-anchor="end" >10<tspan dy="-3.8" font-size="6.5">3</tspan></text>
<line x1="406.50" y1="139.00" x2="406.50" y2="137.00" stroke="#555" stroke-width="1" />
<line x1="416.50" y1="139.00" x2="416.50" y2="137.00" stroke="#555" stroke-width="1" />
<line x1="425.50" y1="139.00" x2="425.50" y2="135.50" stroke="#555" stroke-width="1" />
<line x1="435.50" y1="139.00" x2="435.50" y2="137.00" stroke="#555" stroke-width="1" />
<line x1="444.50" y1="139.00" x2="444.50" y2="137.00" stroke="#555" stroke-width="1" />
<line x1="454.50" y1="139.00" x2="454.50" y2="137.00" stroke="#555" stroke-width="1" />
<line x1="463.50" y1="139.00" x2="463.50" y2="137.00" stroke="#555" stroke-width="1" />
<line x1="472.50" y1="139.00" x2="472.50" y2="135.50" stroke="#555" stroke-width="1" />
<line x1="482.50" y1="139.00" x2="482.50" y2="137.00" stroke="#555" stroke-width="1" />
<line x1="491.50" y1="139.00" x2="491.50" y2="137.00" stroke="#555" stroke-width="1" />
<line x1="501.50" y1="139.00" x2="501.50" y2="137.00" stroke="#555" stroke-width="1" />
<line x1="510.50" y1="139.00" x2="510.50" y2="137.00" stroke="#555" stroke-width="1" />
<line x1="520.50" y1="139.00" x2="520.50" y2="135.50" stroke="#555" stroke-width="1" />
<line x1="529.50" y1="139.00" x2="529.50" y2="137.00" stroke="#555" stroke-width="1" />
<line x1="539.50" y1="139.00" x2="539.50" y2="137.00" stroke="#555" stroke-width="1" />
<line x1="548.50" y1="139.00" x2="548.50" y2="137.00" stroke="#555" stroke-width="1" />
<line x1="558.50" y1="139.00" x2="558.50" y2="137.00" stroke="#555" stroke-width="1" />
<line x1="567.50" y1="139.00" x2="567.50" y2="135.50" stroke="#555" stroke-width="1" />
<line x1="577.50" y1="139.00" x2="577.50" y2="137.00" stroke="#555" stroke-width="1" />
<line x1="586.50" y1="139.00" x2="586.50" y2="137.00" stroke="#555" stroke-width="1" />
<line x1="596.50" y1="139.00" x2="596.50" y2="137.00" stroke="#555" stroke-width="1" />
<line x1="605.50" y1="139.00" x2="605.50" y2="137.00" stroke="#555" stroke-width="1" />
<line x1="615.50" y1="139.00" x2="615.50" y2="135.50" stroke="#555" stroke-width="1" />
<line x1="624.50" y1="139.00" x2="624.50" y2="137.00" stroke="#555" stroke-width="1" />
<line x1="634.50" y1="139.00" x2="634.50" y2="137.00" stroke="#555" stroke-width="1" />
<line x1="643.50" y1="139.00" x2="643.50" y2="137.00" stroke="#555" stroke-width="1" />
<line x1="653.50" y1="139.00" x2="653.50" y2="137.00" stroke="#555" stroke-width="1" />
<line x1="662.50" y1="139.00" x2="662.50" y2="135.50" stroke="#555" stroke-width="1" />
<line x1="671.50" y1="139.00" x2="671.50" y2="137.00" stroke="#555" stroke-width="1" />
<line x1="681.50" y1="139.00" x2="681.50" y2="137.00" stroke="#555" stroke-width="1" />
<line x1="403.50" y1="139.00" x2="403.50" y2="261.50" stroke="#222" stroke-width="1" />
<line x1="403.50" y1="261.50" x2="683.90" y2="261.50" stroke="#333" stroke-width="1" />
<line x1="403.50" y1="259.50" x2="408.00" y2="259.50" stroke="#333" stroke-width="1" />
<line x1="403.50" y1="254.50" x2="408.00" y2="254.50" stroke="#333" stroke-width="1" />
<line x1="403.50" y1="249.50" x2="412.50" y2="249.50" stroke="#333" stroke-width="1" />
<line x1="403.50" y1="244.50" x2="408.00" y2="244.50" stroke="#333" stroke-width="1" />
<line x1="403.50" y1="239.50" x2="408.00" y2="239.50" stroke="#333" stroke-width="1" />
<line x1="403.50" y1="234.50" x2="408.00" y2="234.50" stroke="#333" stroke-width="1" />
<line x1="403.50" y1="229.50" x2="408.00" y2="229.50" stroke="#333" stroke-width="1" />
<line x1="403.50" y1="224.50" x2="412.50" y2="224.50" stroke="#333" stroke-width="1" />
<line x1="403.50" y1="219.50" x2="408.00" y2="219.50" stroke="#333" stroke-width="1" />
<line x1="403.50" y1="214.50" x2="408.00" y2="214.50" stroke="#333" stroke-width="1" />
<line x1="403.50" y1="209.50" x2="408.00" y2="209.50" stroke="#333" stroke-width="1" />
<line x1="403.50" y1="204.50" x2="408.00" y2="204.50" stroke="#333" stroke-width="1" />
<line x1="403.50" y1="199.50" x2="412.50" y2="199.50" stroke="#333" stroke-width="1" />
<line x1="403.50" y1="194.50" x2="408.00" y2="194.50" stroke="#333" stroke-width="1" />
<line x1="403.50" y1="189.50" x2="408.00" y2="189.50" stroke="#333" stroke-width="1" />
<line x1="403.50" y1="184.50" x2="408.00" y2="184.50" stroke="#333" stroke-width="1" />
<line x1="403.50" y1="179.50" x2="408.00" y2="179.50" stroke="#333" stroke-width="1" />
<line x1="403.50" y1="174.50" x2="412.50" y2="174.50" stroke="#333" stroke-width="1" />
<line x1="403.50" y1="169.50" x2="408.00" y2="169.50" stroke="#333" stroke-width="1" />
<line x1="403.50" y1="164.50" x2="408.00" y2="164.50" stroke="#333" stroke-width="1" />
<line x1="403.50" y1="159.50" x2="408.00" y2="159.50" stroke="#333" stroke-width="1" />
<line x1="403.50" y1="154.50" x2="408.00" y2="154.50" stroke="#333" stroke-width="1" />
<line x1="403.50" y1="149.50" x2="412.50" y2="149.50" stroke="#333" stroke-width="1" />
<line x1="403.50" y1="144.50" x2="408.00" y2="144.50" stroke="#333" stroke-width="1" />
<text x="402.90" y="154.30" font-size="10" text-anchor="end" >1.1</text>
<text x="402.90" y="179.30" font-size="10" text-anchor="end" >1.05</text>
<text x="402.90" y="204.30" font-size="10" text-anchor="end" >1</text>
<text x="402.90" y="229.30" font-size="10" text-anchor="end" >0.95</text>
<text x="402.90" y="254.30" font-size="10" text-anchor="end" >0.9</text>
<line x1="406.50" y1="261.50" x2="406.50" y2="259.70" stroke="#333" stroke-width="1" />
<line x1="416.50" y1="261.50" x2="416.50" y2="259.70" stroke="#333" stroke-width="1" />
<line x1="425.50" y1="261.50" x2="425.50" y2="258.00" stroke="#333" stroke-width="1" />
<line x1="435.50" y1="261.50" x2="435.50" y2="259.70" stroke="#333" stroke-width="1" />
<line x1="444.50" y1="261.50" x2="444.50" y2="259.70" stroke="#333" stroke-width="1" />
<line x1="454.50" y1="261.50" x2="454.50" y2="259.70" stroke="#333" stroke-width="1" />
<line x1="463.50" y1="261.50" x2="463.50" y2="259.70" stroke="#333" stroke-width="1" />
<line x1="472.50" y1="261.50" x2="472.50" y2="258.00" stroke="#333" stroke-width="1" />
<line x1="482.50" y1="261.50" x2="482.50" y2="259.70" stroke="#333" stroke-width="1" />
<line x1="491.50" y1="261.50" x2="491.50" y2="259.70" stroke="#333" stroke-width="1" />
<line x1="501.50" y1="261.50" x2="501.50" y2="259.70" stroke="#333" stroke-width="1" />
<line x1="510.50" y1="261.50" x2="510.50" y2="259.70" stroke="#333" stroke-width="1" />
<line x1="520.50" y1="261.50" x2="520.50" y2="258.00" stroke="#333" stroke-width="1" />
<line x1="529.50" y1="261.50" x2="529.50" y2="259.70" stroke="#333" stroke-width="1" />
<line x1="539.50" y1="261.50" x2="539.50" y2="259.70" stroke="#333" stroke-width="1" />
<line x1="548.50" y1="261.50" x2="548.50" y2="259.70" stroke="#333" stroke-width="1" />
<line x1="558.50" y1="261.50" x2="558.50" y2="259.70" stroke="#333" stroke-width="1" />
<line x1="567.50" y1="261.50" x2="567.50" y2="258.00" stroke="#333" stroke-width="1" />
<line x1="577.50" y1="261.50" x2="577.50" y2="259.70" stroke="#333" stroke-width="1" />
<line x1="586.50" y1="261.50" x2="586.50" y2="259.70" stroke="#333" stroke-width="1" />
<line x1="596.50" y1="261.50" x2="596.50" y2="259.70" stroke="#333" stroke-width="1" />
<line x1="605.50" y1="261.50" x2="605.50" y2="259.70" stroke="#333" stroke-width="1" />
<line x1="615.50" y1="261.50" x2="615.50" y2="258.00" stroke="#333" stroke-width="1" />
<line x1="624.50" y1="261.50" x2="624.50" y2="259.70" stroke="#333" stroke-width="1" />
<line x1="634.50" y1="261.50" x2="634.50" y2="259.70" stroke="#333" stroke-width="1" />
<line x1="643.50" y1="261.50" x2="643.50" y2="259.70" stroke="#333" stroke-width="1" />
<line x1="653.50" y1="261.50" x2="653.50" y2="259.70" stroke="#333" stroke-width="1" />
<line x1="662.50" y1="261.50" x2="662.50" y2="258.00" stroke="#333" stroke-width="1" />
<line x1="671.50" y1="261.50" x2="671.50" y2="259.70" stroke="#333" stroke-width="1" />
<line x1="681.50" y1="261.50" x2="681.50" y2="259.70" stroke="#333" stroke-width="1" />
<text x="425.30" y="270.20" font-size="9.8" text-anchor="middle" >2</text>
<text x="472.68" y="270.20" font-size="9.8" text-anchor="middle" >2.5</text>
<text x="520.06" y="270.20" font-size="9.8" text-anchor="middle" >3</text>
<text x="567.44" y="270.20" font-size="9.8" text-anchor="middle" >3.5</text>
<text x="614.82" y="270.20" font-size="9.8" text-anchor="middle" >4</text>
<text x="662.20" y="270.20" font-size="9.8" text-anchor="middle" >4.5</text>
<text x="668.00" y="281.00" font-size="11.5" text-anchor="start" >y<tspan dy="5.0" font-size="7.3">(ll)</tspan></text>
<text x="537.00" y="11.30" font-size="11.35" text-anchor="middle" >Projected forward Z data</text>
<text x="369.20" y="23.40" font-size="11" text-anchor="end" transform="rotate(-90 369.2 23.4)">dσ/dy<tspan dy="2.5" font-size="7.5">(ll)</tspan><tspan dy="-2.5"> [fb]</tspan></text>
<text x="373.60" y="143.20" font-size="11.4" text-anchor="end" transform="rotate(-90 373.6 143.2)">Ratio</text>
<text x="580.60" y="27.30" font-size="10.5" text-anchor="start" >Lumi error = 1.5 %</text>
<rect x="427.90" y="95.10" width="26.40" height="8.70" fill="#fdc2a8" />
<line x1="427.90" y1="99.40" x2="454.30" y2="99.40" stroke="#3a2824" stroke-width="1" />
<rect x="427.90" y="108.10" width="26.40" height="8.50" fill="#c4c3f0" />
<line x1="427.90" y1="112.40" x2="454.30" y2="112.40" stroke="#2a2a3c" stroke-width="1" />
<rect x="427.90" y="120.70" width="26.40" height="8.30" fill="#000" />
<text x="459.50" y="102.30" font-size="8.5" text-anchor="start" >PDF4LHC15</text>
<text x="459.50" y="114.80" font-size="8.5" text-anchor="start" >PDF4LHC15+ HL-LHC y<tspan dy="4.0" font-size="6">(ll)</tspan></text>
<text x="459.50" y="126.90" font-size="8.5" text-anchor="start" >HL-LHC pseudo-data, F = 0.2</text>
</svg>
</body></html>
